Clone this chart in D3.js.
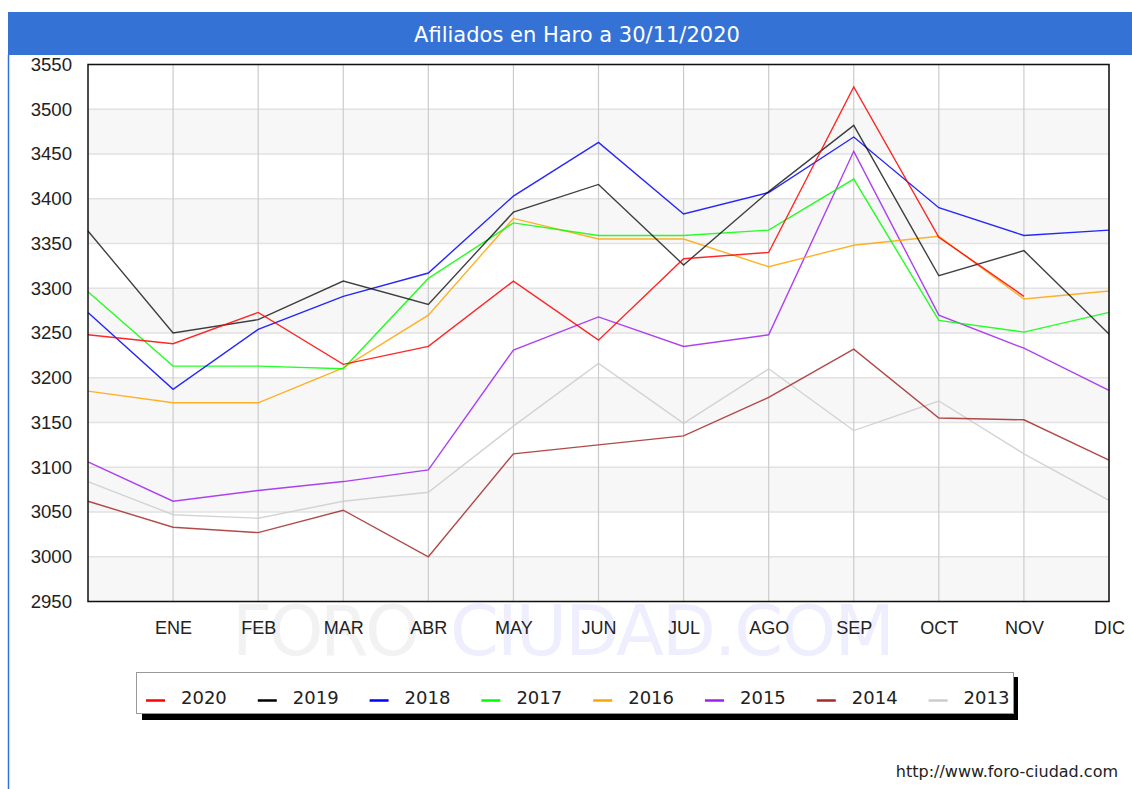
<!DOCTYPE html>
<html>
<head>
<meta charset="utf-8">
<script src="https://cdn.jsdelivr.net/npm/d3@7"></script>
<style>
  body { margin: 0; background: #fff; }
  svg { display: block; font-family: "DejaVu Sans", Verdana, sans-serif; }
</style>
</head>
<body>
<svg id="chart" width="1132" height="789"></svg>
<script>
// months: the first slot is the previous December (no label)
var months = ['', 'ENE', 'FEB', 'MAR', 'ABR', 'MAY', 'JUN', 'JUL', 'AGO', 'SEP', 'OCT', 'NOV', 'DIC'];
var years = ['2020', '2019', '2018', '2017', '2016', '2015', '2014', '2013'];
var colors = ['#ff0000', '#000000', '#0000ff', '#00ff00', '#ffa500', '#a020f0', '#a52a2a', '#cccccc'];

var s2020 = [3248, 3238, 3273, 3215, 3235, 3308, 3242, 3333, 3340, 3525, 3357, 3291];
var s2019 = [3364, 3250, 3265, 3308, 3282, 3385, 3416, 3326, 3408, 3482, 3314, 3342, 3249];
var s2018 = [3273, 3187, 3254, 3291, 3317, 3403, 3463, 3383, 3407, 3469, 3390, 3359, 3365];
var s2017 = [3296, 3213, 3213, 3210, 3311, 3373, 3359, 3359, 3365, 3422, 3264, 3251, 3273];
var s2016 = [3185, 3172, 3172, 3211, 3270, 3378, 3355, 3355, 3324, 3348, 3358, 3288, 3297];
var s2015 = [3106, 3062, 3074, 3084, 3097, 3231, 3268, 3235, 3248, 3453, 3270, 3233, 3186];
var s2014 = [3062, 3033, 3027, 3052, 3000, 3115, 3125, 3135, 3178, 3232, 3155, 3153, 3108];
var s2013 = [3084, 3047, 3043, 3062, 3072, 3146, 3216, 3149, 3210, 3141, 3174, 3115, 3063];

var yTicks = d3.range(2950, 3551, 50);

var series = [s2020, s2019, s2018, s2017, s2016, s2015, s2014, s2013];

var svg = d3.select('#chart');
var plotL = 88, plotR = 1109, plotT = 64.5, plotB = 601.5;

var x = d3.scalePoint().domain(d3.range(months.length)).range([plotL, plotR]);
var y = d3.scaleLinear().domain([2950, 3550]).range([plotB, plotT]);

// frame + title
svg.append('rect').attr('x', 8).attr('y', 12).attr('width', 1124).attr('height', 43).attr('fill', '#3572d6');
svg.append('line').attr('x1', 8.5).attr('x2', 8.5).attr('y1', 55).attr('y2', 789)
    .attr('stroke', '#3572d6').attr('stroke-width', 1.5);
svg.append('text').attr('x', 577).attr('y', 42).attr('text-anchor', 'middle')
    .attr('fill', '#fff').style('font-size', '21px').text('Afiliados en Haro a 30/11/2020');

// watermark
var wm = svg.append('text').attr('y', 655).style('font-size', '70px');
wm.append('tspan').attr('x', 232).attr('fill', '#f2f2f2').attr('textLength', 188).text('FORO');
wm.append('tspan').attr('x', 450).attr('fill', '#eeeeff').attr('textLength', 445).text('CIUDAD.COM');

// bands
for (var i = 0; i < yTicks.length - 1; i += 2) {
    svg.append('rect')
        .attr('x', plotL).attr('width', plotR - plotL)
        .attr('y', y(yTicks[i] + 50)).attr('height', y(yTicks[i]) - y(yTicks[i] + 50))
        .attr('fill', '#f7f7f7');
}

// horizontal grid
svg.append('g').selectAll('line').data(yTicks).enter().append('line')
    .attr('x1', plotL).attr('x2', plotR)
    .attr('y1', d => y(d)).attr('y2', d => y(d))
    .attr('stroke', '#e2e2e2').attr('stroke-width', 1.5);

// vertical grid
svg.append('g').selectAll('line').data(d3.range(1, months.length)).enter().append('line')
    .attr('x1', d => x(d)).attr('x2', d => x(d))
    .attr('y1', plotT).attr('y2', plotB)
    .attr('stroke', '#cccccc').attr('stroke-width', 1.2);

// axes
var yAxis = d3.axisLeft(y).tickValues(yTicks).tickSize(0).tickPadding(16).tickFormat(d3.format('d'));
svg.append('g').attr('transform', `translate(${plotL},0)`).call(yAxis)
    .call(g => g.select('.domain').remove())
    .selectAll('text').style('font-size', '18.6px').attr('fill', '#222');

var xAxis = d3.axisBottom(x).tickSize(0).tickPadding(20).tickFormat(i => months[i]);
svg.append('g').attr('transform', `translate(0,${plotB})`).call(xAxis)
    .call(g => g.select('.domain').remove())
    .selectAll('text').style('font-size', '18px').attr('fill', '#222');

// lines, oldest first
var line = d3.line().x((d, i) => x(i)).y(d => y(d));
for (var k = series.length - 1; k >= 0; k--) {
    svg.append('path').datum(series[k])
        .attr('d', line)
        .attr('fill', 'none')
        .attr('stroke', colors[k])
        .attr('stroke-width', 1.4)
        .attr('stroke-opacity', k === 1 ? 0.75 : 0.85);
}

// plot border
svg.append('rect').attr('x', plotL).attr('y', plotT).attr('width', plotR - plotL).attr('height', plotB - plotT)
    .attr('fill', 'none').attr('stroke', '#111').attr('stroke-width', 1.5);

// legend
var lg = svg.append('g');
lg.append('rect').attr('x', 142).attr('y', 677).attr('width', 876).attr('height', 43).attr('fill', '#000');
lg.append('rect').attr('x', 136.5).attr('y', 672.5).attr('width', 877).attr('height', 41)
    .attr('fill', '#fff').attr('stroke', '#999').attr('stroke-width', 1);
var items = lg.selectAll('g.item').data(years).enter().append('g')
    .attr('transform', (d, i) => `translate(${146 + i * 111.8},0)`);
items.append('line').attr('x1', 0).attr('x2', 19).attr('y1', 700.5).attr('y2', 700.5)
    .attr('stroke', (d, i) => colors[i]).attr('stroke-width', 2.5);
items.append('text').attr('x', 35).attr('y', 704).style('font-size', '18px').attr('fill', '#222').text(d => d);

// url
svg.append('text').attr('x', 1118).attr('y', 777).attr('text-anchor', 'end')
    .style('font-size', '16px').attr('fill', '#222').text('http://www.foro-ciudad.com');
</script>
</body>
</html>
